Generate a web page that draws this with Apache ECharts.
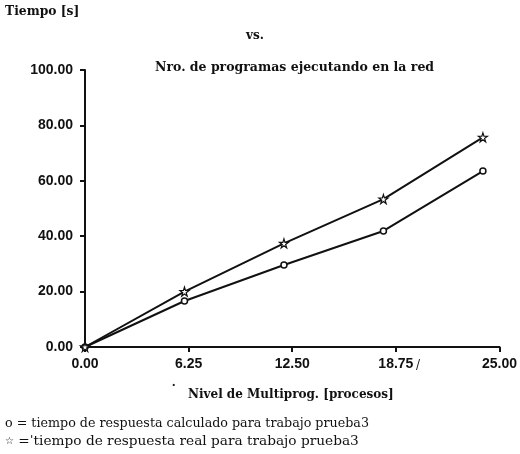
<!DOCTYPE html>
<html><head><meta charset="utf-8">
<script src="https://cdn.jsdelivr.net/npm/echarts@6/dist/echarts.min.js"></script>
<style>html,body{margin:0;padding:0;background:#fff}#c{width:520px;height:454px}</style>
</head><body><div id="c"></div>
<script>
const xValues = [0, 6, 12, 18, 24];
const calculado = [0, 16.6, 29.6, 41.9, 63.5];
const real = [0, 20.0, 37.4, 53.4, 75.7];
const xTicks = [0, 6.25, 12.5, 18.75, 25];
const yTicks = [0, 20, 40, 60, 80, 100];

const serif = '"DejaVu Serif", "Liberation Serif", serif';
const sans = '"Liberation Sans", Arial, sans-serif';
const starPath = 'path://M50,0 L61,35 L98,35 L68,57 L79,92 L50,70 L21,92 L32,57 L2,35 L39,35 Z';

const chart = echarts.init(document.getElementById('c'), null, {renderer: 'canvas'});
chart.setOption({
  animation: false,
  backgroundColor: '#fff',
  grid: {left: 85, right: 18, top: 70, bottom: 107, containLabel: false},
  xAxis: {
    type: 'value', min: 0, max: 25, interval: 6.25,
    axisLine: {lineStyle: {color: '#111', width: 2}},
    axisTick: {show: true, length: 5, lineStyle: {color: '#111', width: 2}},
    splitLine: {show: false},
    axisLabel: {color: '#111', fontFamily: sans, fontWeight: 'bold', fontSize: 14, margin: 10,
      formatter: v => v.toFixed(2)}
  },
  yAxis: {
    type: 'value', min: 0, max: 100, interval: 20,
    axisLine: {lineStyle: {color: '#111', width: 2}},
    axisTick: {show: true, length: 5, lineStyle: {color: '#111', width: 2}},
    splitLine: {show: false},
    axisLabel: {color: '#111', fontFamily: sans, fontWeight: 'bold', fontSize: 14, margin: 12,
      formatter: v => v.toFixed(2)}
  },
  series: [
    {type: 'line', data: xValues.map((x, i) => [x, calculado[i]]),
     symbol: 'circle', symbolSize: 6, showAllSymbol: true,
     lineStyle: {color: '#111', width: 2}, itemStyle: {color: '#fff', borderColor: '#111', borderWidth: 1.5}},
    {type: 'line', data: xValues.map((x, i) => [x, real[i]]),
     symbol: starPath, symbolSize: 9, showAllSymbol: true,
     lineStyle: {color: '#111', width: 2}, itemStyle: {color: '#fff', borderColor: '#111', borderWidth: 1.2}}
  ],
  graphic: [
    {type: 'text', left: 5, top: 6, style: {text: 'Tiempo [s]', font: 'bold 12.3px ' + serif, fill: '#111'}},
    {type: 'text', left: 246, top: 30, style: {text: 'vs.', font: 'bold 12px ' + serif, fill: '#111'}},
    {type: 'text', left: 155, top: 61, style: {text: 'Nro. de programas ejecutando en la red', font: 'bold 12.5px ' + serif, fill: '#111'}},
    {type: 'text', left: 170, top: 385, style: {text: '˙', font: 'bold 15px ' + serif, fill: '#111'}},
    {type: 'text', left: 188, top: 389, style: {text: 'Nivel de Multiprog. [procesos]', font: 'bold 12px ' + serif, fill: '#111'}},
    {type: 'text', left: 416, top: 360, style: {text: '/', font: '12px ' + serif, fill: '#111'}},
    {type: 'text', left: 5, top: 417, style: {text: 'o = tiempo de respuesta calculado para trabajo prueba3', font: '12.7px ' + serif, fill: '#111'}},
    {type: 'text', left: 5, top: 434, style: {
      text: '{s|☆} =ˈtiempo de respuesta real para trabajo prueba3',
      font: '13.7px ' + serif, fill: '#111',
      rich: {s: {font: '10px ' + serif, fill: '#111'}}}}
  ]
});
</script></body></html>
